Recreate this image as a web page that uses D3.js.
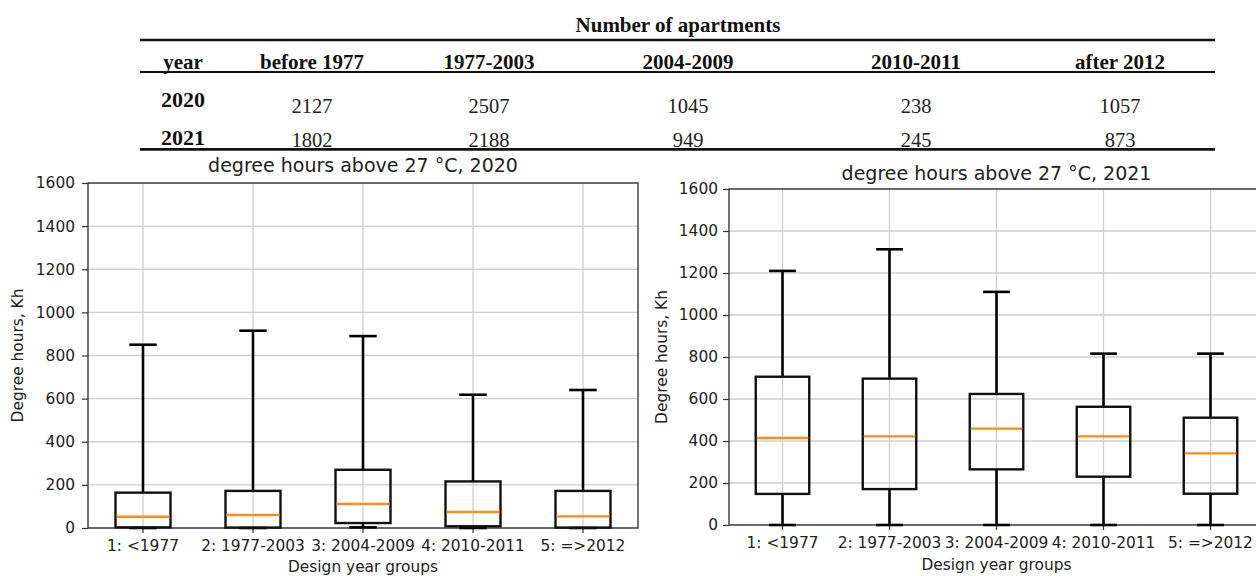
<!DOCTYPE html>
<html>
<head>
<meta charset="utf-8">
<script src="https://cdn.jsdelivr.net/npm/d3@7"></script>
<style>
  html, body { margin: 0; padding: 0; background: #fff; }
  svg { display: block; }
</style>
</head>
<body>
<svg id="chart" width="1256" height="576"></svg>
<script>
// ---------- DATA ----------
const tableTitle = "Number of apartments";
const tableYearHeader = "year";
const tableCols = ["before 1977", "1977-2003", "2004-2009", "2010-2011", "after 2012"];
const tableYears = ["2020", "2021"];
const apartments2020 = [2127, 2507, 1045, 238, 1057];
const apartments2021 = [1802, 2188, 949, 245, 873];

const categories = ["1: <1977", "2: 1977-2003", "3: 2004-2009", "4: 2010-2011", "5: =>2012"];
const yTicks = [0, 200, 400, 600, 800, 1000, 1200, 1400, 1600];

// 2020 box statistics (degree hours, Kh)
const low2020 = [0, 0, 3, 0, 0];
const q1_2020 = [3, 2, 23, 8, 2];
const med2020 = [52, 60, 111, 74, 54];
const q3_2020 = [164, 172, 270, 216, 172];
const high2020 = [850, 915, 890, 618, 640];

// 2021 box statistics (degree hours, Kh)
const low2021 = [0, 0, 0, 0, 0];
const q1_2021 = [148, 171, 265, 230, 149];
const med2021 = [414, 422, 459, 422, 341];
const q3_2021 = [706, 697, 624, 563, 511];
const high2021 = [1210, 1313, 1110, 816, 816];

const title2020 = "degree hours above 27 \u00B0C, 2020";
const title2021 = "degree hours above 27 \u00B0C, 2021";
const yLabel = "Degree hours, Kh";
const xLabel = "Design year groups";

// ---------- LAYOUT ----------
const svg = d3.select("#chart");
const serif = "'Liberation Serif', 'Times New Roman', serif";
const sans = "'DejaVu Sans', sans-serif";

// Table
const tbl = { x0: 140, x1: 1215, yearX: 161, colCenters: [312, 489, 688, 916, 1120] };
const tg = svg.append("g");
tg.append("text").attr("x", 678).attr("y", 31.5).attr("text-anchor", "middle")
  .attr("font-family", serif).attr("font-weight", "bold").attr("font-size", 21)
  .attr("fill", "#111").text(tableTitle);
[[40, 2.6], [72, 2], [149.3, 2.8]].forEach(([y, w]) => {
  tg.append("line").attr("x1", tbl.x0).attr("x2", tbl.x1).attr("y1", y).attr("y2", y)
    .attr("stroke", "#111").attr("stroke-width", w);
});
tg.append("text").attr("x", 183).attr("y", 69).attr("text-anchor", "middle")
  .attr("font-family", serif).attr("font-weight", "bold").attr("font-size", 21)
  .attr("fill", "#111").text(tableYearHeader);
tg.selectAll("text.hdr").data(tableCols).join("text").attr("class", "hdr")
  .attr("x", (d, i) => tbl.colCenters[i]).attr("y", 69).attr("text-anchor", "middle")
  .attr("font-family", serif).attr("font-weight", "bold").attr("font-size", 21)
  .attr("fill", "#111").text(d => d);
const rows = [
  { year: tableYears[0], vals: apartments2020, yBase: 107, nBase: 112.5 },
  { year: tableYears[1], vals: apartments2021, yBase: 145, nBase: 146.5 }
];
rows.forEach(r => {
  tg.append("text").attr("x", tbl.yearX).attr("y", r.yBase)
    .attr("font-family", serif).attr("font-weight", "bold").attr("font-size", 22)
    .attr("fill", "#111").text(r.year);
  tg.selectAll(null).data(r.vals).join("text")
    .attr("x", (d, i) => tbl.colCenters[i]).attr("y", r.nBase).attr("text-anchor", "middle")
    .attr("font-family", serif).attr("font-size", 20.5).attr("fill", "#222")
    .text(d => d);
});

// Box plot panel
function panel(cfg) {
  const g = svg.append("g");
  const x = d3.scaleBand().domain(categories).range([cfg.left, cfg.right]).paddingInner(0).paddingOuter(0);
  const y = d3.scaleLinear().domain([0, 1600]).range([cfg.bottom, cfg.top]);
  const bw = x.bandwidth();
  const cx = c => x(c) + bw / 2;

  // grid
  g.append("g").selectAll("line").data(yTicks).join("line")
    .attr("x1", cfg.left).attr("x2", cfg.right)
    .attr("y1", d => y(d)).attr("y2", d => y(d))
    .attr("stroke", "#cfcfcf").attr("stroke-width", 1.3);
  g.append("g").selectAll("line").data(categories).join("line")
    .attr("x1", cx).attr("x2", cx)
    .attr("y1", cfg.top).attr("y2", cfg.bottom)
    .attr("stroke", "#cfcfcf").attr("stroke-width", 1.3);

  // axes
  const yAxis = d3.axisLeft(y).tickValues(yTicks).tickSize(6).tickPadding(5).tickFormat(d3.format("d"));
  const ya = g.append("g").attr("transform", `translate(${cfg.left},0)`).call(yAxis);
  const xAxis = d3.axisBottom(x).tickSize(5).tickPadding(5);
  const xa = g.append("g").attr("transform", `translate(0,${cfg.bottom})`).call(xAxis);
  [ya, xa].forEach(a => {
    a.select(".domain").remove();
    a.selectAll(".tick line").attr("stroke", "#333").attr("stroke-width", 1.2);
    a.selectAll(".tick text").attr("font-family", sans).attr("font-size", 15.4).attr("fill", "#222");
  });
  xa.selectAll(".tick text").attr("dy", "0.71em").attr("y", 12.5);
  ya.selectAll(".tick text").attr("x", -cfg.yLabelPad);

  // spines
  g.append("rect").attr("x", cfg.left).attr("y", cfg.top)
    .attr("width", cfg.right - cfg.left).attr("height", cfg.bottom - cfg.top)
    .attr("fill", "none").attr("stroke", "#3a3a3a").attr("stroke-width", 1.4);

  // boxes
  const d = categories.map((c, i) => ({ c, lo: cfg.low[i], q1: cfg.q1[i], med: cfg.med[i], q3: cfg.q3[i], hi: cfg.high[i] }));
  const bg = g.append("g").selectAll("g").data(d).join("g");
  const boxW = bw * 0.5, capW = bw * 0.25;
  bg.append("line").attr("x1", e => cx(e.c)).attr("x2", e => cx(e.c))
    .attr("y1", e => y(e.q3)).attr("y2", e => y(e.hi)).attr("stroke", "#000").attr("stroke-width", 2.6);
  bg.append("line").attr("x1", e => cx(e.c)).attr("x2", e => cx(e.c))
    .attr("y1", e => y(e.q1)).attr("y2", e => y(e.lo)).attr("stroke", "#000").attr("stroke-width", 2.6);
  bg.append("line").attr("x1", e => cx(e.c) - capW / 2).attr("x2", e => cx(e.c) + capW / 2)
    .attr("y1", e => y(e.hi)).attr("y2", e => y(e.hi)).attr("stroke", "#000").attr("stroke-width", 2.6);
  bg.append("line").attr("x1", e => cx(e.c) - capW / 2).attr("x2", e => cx(e.c) + capW / 2)
    .attr("y1", e => y(e.lo)).attr("y2", e => y(e.lo)).attr("stroke", "#000").attr("stroke-width", 2.6);
  bg.append("rect").attr("x", e => cx(e.c) - boxW / 2).attr("width", boxW)
    .attr("y", e => y(e.q3)).attr("height", e => y(e.q1) - y(e.q3))
    .attr("fill", "none").attr("stroke", "#111").attr("stroke-width", 2.4);
  bg.append("line").attr("x1", e => cx(e.c) - boxW / 2 + 1).attr("x2", e => cx(e.c) + boxW / 2 - 1)
    .attr("y1", e => y(e.med)).attr("y2", e => y(e.med)).attr("stroke", "#ff8c1a").attr("stroke-width", 2.4);

  // labels
  const mid = (cfg.left + cfg.right) / 2;
  g.append("text").attr("x", mid).attr("y", cfg.titleY).attr("text-anchor", "middle")
    .attr("font-family", sans).attr("font-size", 19).attr("fill", "#222").text(cfg.title);
  g.append("text").attr("x", mid).attr("y", cfg.xLabelY).attr("text-anchor", "middle")
    .attr("font-family", sans).attr("font-size", 15.4).attr("fill", "#222").text(xLabel);
  g.append("text").attr("transform", `translate(${cfg.yLabelX},${(cfg.top + cfg.bottom) / 2}) rotate(-90)`)
    .attr("text-anchor", "middle").attr("font-family", sans).attr("font-size", 15.4)
    .attr("fill", "#222").text(yLabel);
}

panel({ left: 88, right: 638, top: 183, bottom: 528, titleY: 171.7, xLabelY: 572, yLabelX: 23, yLabelPad: 13,
  title: title2020, low: low2020, q1: q1_2020, med: med2020, q3: q3_2020, high: high2020 });
panel({ left: 729, right: 1264, top: 189, bottom: 525, titleY: 179.5, xLabelY: 570, yLabelX: 667, yLabelPad: 11,
  title: title2021, low: low2021, q1: q1_2021, med: med2021, q3: q3_2021, high: high2021 });
</script>
</body>
</html>
